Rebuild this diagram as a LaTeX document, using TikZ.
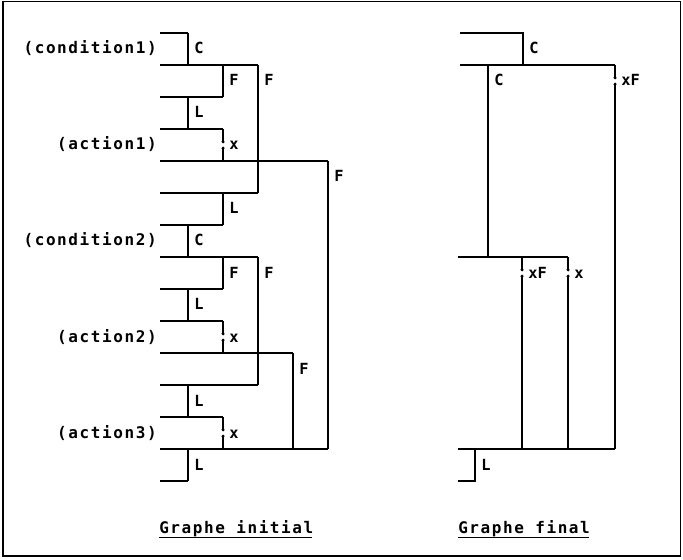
\documentclass[tikz,border=0pt]{standalone}
\usepackage{fontspec}
\newfontfamily\plotfont[LetterSpace=10]{DejaVu Sans Mono Bold}
\newfontfamily\plotlbl{DejaVu Sans Mono Bold}
\newcommand\brkwire[4]{% x, ytop, ybottom, ymid
  \draw[wire] (#1,#2) -- (#1,#4-3.2) (#1,#4+3.2) -- (#1,#3);
  \fill (#1,#4-3.2) circle[radius=1.7] (#1,#4+3.2) circle[radius=1.7];}
\tikzset{
  wire/.style={line width=0.85pt},
  lbl/.style={font=\plotlbl\fontsize{11.5pt}{13pt}\selectfont, anchor=base west, inner sep=0pt},
  txt/.style={font=\plotfont\fontsize{12pt}{14pt}\selectfont, anchor=base east, inner sep=0pt},
  ttl/.style={font=\plotfont\fontsize{12pt}{14pt}\selectfont, anchor=base west, inner sep=0pt},
}
\begin{document}
\begin{tikzpicture}[x=0.75pt,y=-0.75pt]
\useasboundingbox (0,0) rectangle (683,560);
\draw[line width=1pt] (3,1.5) rectangle (680.5,556);
% ---------- left graph: horizontal levels ----------
\draw[wire] (160,33) -- (188,33);
\draw[wire] (160,65) -- (258,65);
\draw[wire] (160,97) -- (223,97);
\draw[wire] (160,129) -- (223,129);
\draw[wire] (160,161) -- (328,161);
\draw[wire] (160,193) -- (258,193);
\draw[wire] (160,225) -- (223,225);
\draw[wire] (160,257) -- (258,257);
\draw[wire] (160,289) -- (223,289);
\draw[wire] (160,321) -- (223,321);
\draw[wire] (160,353) -- (293,353);
\draw[wire] (160,385) -- (258,385);
\draw[wire] (160,417) -- (223,417);
\draw[wire] (160,449) -- (328,449);
\draw[wire] (160,481) -- (188,481);
% verticals
\draw[wire] (188,33) -- (188,65);
\draw[wire] (188,97) -- (188,129);
\draw[wire] (188,225) -- (188,257);
\draw[wire] (188,289) -- (188,321);
\draw[wire] (188,385) -- (188,417);
\draw[wire] (188,449) -- (188,481);
\draw[wire] (223,65) -- (223,97);
\draw[wire] (223,193) -- (223,225);
\draw[wire] (223,257) -- (223,289);
\brkwire{223}{129}{161}{145}
\brkwire{223}{321}{353}{337}
\brkwire{223}{417}{449}{433}
\draw[wire] (258,65) -- (258,193);
\draw[wire] (258,257) -- (258,385);
\draw[wire] (293,353) -- (293,449);
\draw[wire] (328,161) -- (328,449);
% texts
\node[txt] (c1) at (157,54) {(condition1)};
\node[txt] (a1) at (157,150) {(action1)};
\node[txt] (c2) at (157,246) {(condition2)};
\node[txt] (a2) at (157,342) {(action2)};
\node[txt] (a3) at (157,438) {(action3)};
% labels
\node[lbl] (l1) at (194,54) {C};
\node[lbl] (l2) at (229,86) {F};
\node[lbl] (l3) at (264,86) {F};
\node[lbl] (l4) at (194,118) {L};
\node[lbl] (l5) at (229,150) {x};
\node[lbl] (l6) at (334,182) {F};
\node[lbl] (l7) at (229,214) {L};
\node[lbl] (l8) at (194,246) {C};
\node[lbl] (l9) at (229,278) {F};
\node[lbl] (l10) at (264,278) {F};
\node[lbl] (l11) at (194,310) {L};
\node[lbl] (l12) at (229,342) {x};
\node[lbl] (l13) at (299,374) {F};
\node[lbl] (l14) at (194,406) {L};
\node[lbl] (l15) at (229,438) {x};
\node[lbl] (l16) at (194,470) {L};
% ---------- right graph ----------
\draw[wire] (460,33) -- (523,33) -- (523,65);
\draw[wire] (460,65) -- (615,65);
\draw[wire] (488,65) -- (488,257);
\draw[wire] (458,257) -- (568,257);
\brkwire{615}{65}{449}{81}
\brkwire{522}{257}{449}{273}
\brkwire{568}{257}{449}{273}
\draw[wire] (458,449) -- (615,449);
\draw[wire] (475,449) -- (475,481) -- (458,481);
\node[lbl] (r1) at (529,54) {C};
\node[lbl] (r2) at (494,86) {C};
\node[lbl] (r3) at (621,86) {xF};
\node[lbl] (r4) at (528,278) {xF};
\node[lbl] (r5) at (574,278) {x};
\node[lbl] (r6) at (481,470) {L};
% ---------- titles ----------
\node[ttl] (gi) at (159,533) {Graphe initial};
\node[ttl] (gf) at (458,533) {Graphe final};
\draw[line width=0.8pt] ([yshift=-3.6pt]gi.base west) -- ([yshift=-3.6pt,xshift=-1pt]gi.base east);
\draw[line width=0.8pt] ([yshift=-3.6pt]gf.base west) -- ([yshift=-3.6pt,xshift=-1pt]gf.base east);
\end{tikzpicture}
\end{document}
